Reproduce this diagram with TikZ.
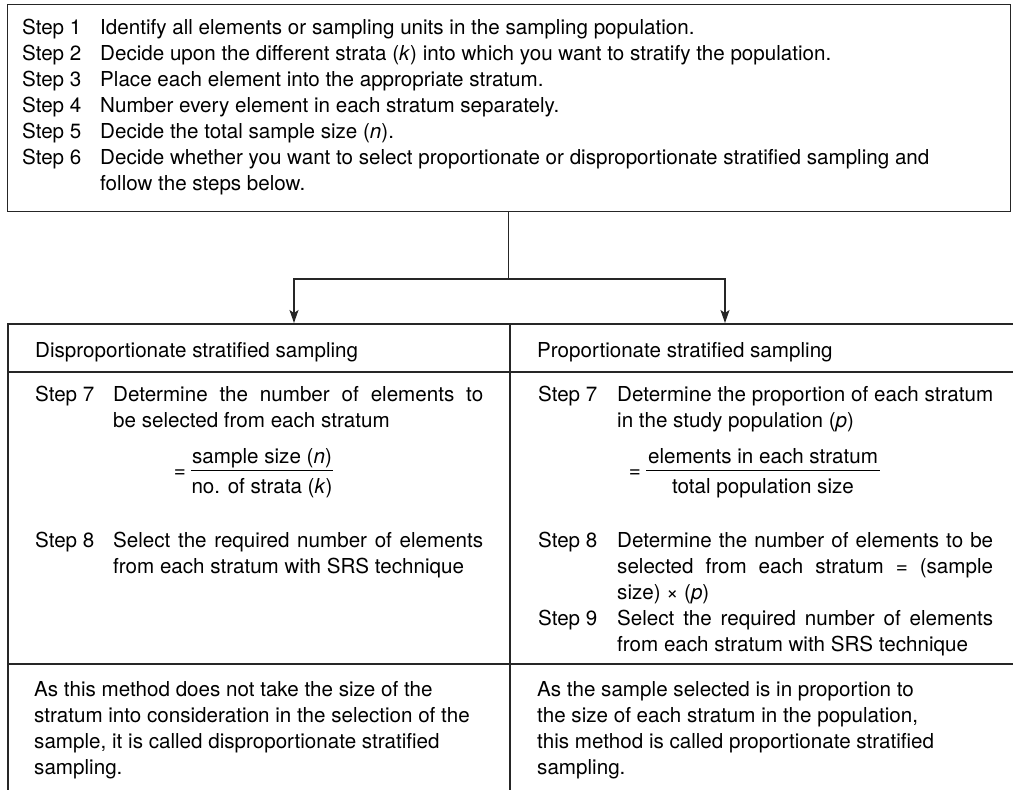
\documentclass[tikz,border=0pt]{standalone}
\usepackage{fontspec}
\setmainfont{TeX Gyre Heros}
\usetikzlibrary{arrows.meta}
\definecolor{linec}{HTML}{262626}
\newcommand\bodyfont{\fontsize{20.6pt}{26pt}\selectfont}
\newcommand\jline[2]{\makebox[#1pt][s]{#2}}
\begin{document}
\begin{tikzpicture}[x=1pt,y=-1pt,
  txt/.style={anchor=base west, inner sep=0pt, font=\bodyfont, text=black},
  ctxt/.style={anchor=base, inner sep=0pt, font=\bodyfont, text=black},
  rule/.style={draw=linec, line width=1.3pt},
  bar/.style={draw=black, line width=1pt},
  arr/.style={rule, -{Stealth[length=13pt,width=9pt,inset=3pt]}}]
\useasboundingbox (0,0) rectangle (1013,790);

% top box
\node[rule, minimum width=1003pt, minimum height=207pt, inner sep=0pt, anchor=north west] (top) at (6.5,4) {};
\node[txt] (s1) at (22,34) {Step 1};
\node[txt] (d1) at (100,34) {Identify all elements or sampling units in the sampling population.};
\node[txt] (s2) at (22,60) {Step 2};
\node[txt] (d2) at (100,60) {Decide upon the different strata (\textit{k}) into which you want to stratify the population.};
\node[txt] (s3) at (22,86) {Step 3};
\node[txt] (d3) at (100,86) {Place each element into the appropriate stratum.};
\node[txt] (s4) at (22,112) {Step 4};
\node[txt] (d4) at (100,112) {Number every element in each stratum separately.};
\node[txt] (s5) at (22,138) {Step 5};
\node[txt] (d5) at (100,138) {Decide the total sample size (\textit{n}).};
\node[txt] (s6) at (22,164) {Step 6};
\node[txt] (d6) at (100,164) {Decide whether you want to select proportionate or disproportionate stratified sampling and};
\node[txt] (d6b) at (100,190) {follow the steps below.};

% connectors
\coordinate (bL) at (294,279);
\coordinate (bR) at (725,279);
\coordinate (tL) at (294,323);
\coordinate (tR) at (725,323);
\draw[arr] (top.south) |- (bL) -- (tL);
\draw[arr] (top.south) |- (bR) -- (tR);

% table rules
\draw[rule] (8,790) -- (8,324) -- (1013,324);
\draw[rule] (8,372) -- (1013,372);
\draw[rule] (8,664) -- (1013,664);
\draw[rule] (510,324) -- (510,790);

% headers
\node[txt] (hL) at (35,357) {Disproportionate stratified sampling};
\node[txt] (hR) at (537,357) {Proportionate stratified sampling};

% left column
\node[txt] (l7) at (35,401) {Step 7};
\node[txt] (l7a) at (113,401) {\jline{370}{Determine the number of elements to}};
\node[txt] (l7b) at (113,427) {be selected from each stratum};
\node[ctxt] (leq) at (180,477) {=};
\node[ctxt] (lnum) at (262,463) {sample size (\textit{n})};
\node[ctxt] (lden) at (262,493) {no. of strata (\textit{k})};
\coordinate (lb1) at (191,470);
\coordinate (lb2) at (333,470);
\draw[bar] (lb1) -- (lb2);
\node[txt] (l8) at (35,547) {Step 8};
\node[txt] (l8a) at (113,547) {\jline{370}{Select the required number of elements}};
\node[txt] (l8b) at (113,573) {from each stratum with SRS technique};

% right column
\node[txt] (r7) at (538,401) {Step 7};
\node[txt] (r7a) at (617,401) {\jline{376}{Determine the proportion of each stratum}};
\node[txt] (r7b) at (617,427) {in the study population (\textit{p})};
\node[ctxt] (req) at (635,477) {=};
\node[ctxt] (rnum) at (763,463) {elements in each stratum};
\node[ctxt] (rden) at (763,493) {total population size};
\coordinate (rb1) at (646,470);
\coordinate (rb2) at (880,470);
\draw[bar] (rb1) -- (rb2);
\node[txt] (r8) at (538,547) {Step 8};
\node[txt] (r8a) at (617,547) {\jline{376}{Determine the number of elements to be}};
\node[txt] (r8b) at (617,573) {\jline{376}{selected from each stratum = (sample}};
\node[txt] (r8c) at (617,599) {size) × (\textit{p})};
\node[txt] (r9) at (538,625) {Step 9};
\node[txt] (r9a) at (617,625) {\jline{376}{Select the required number of elements}};
\node[txt] (r9b) at (617,651) {from each stratum with SRS technique};

% bottom texts
\node[txt] (bl1) at (34,696) {As this method does not take the size of the};
\node[txt] (bl2) at (34,722) {stratum into consideration in the selection of the};
\node[txt] (bl3) at (34,748) {sample, it is called disproportionate stratified};
\node[txt] (bl4) at (34,774) {sampling.};
\node[txt] (br1) at (537,696) {As the sample selected is in proportion to};
\node[txt] (br2) at (537,722) {the size of each stratum in the population,};
\node[txt] (br3) at (537,748) {this method is called proportionate stratified};
\node[txt] (br4) at (537,774) {sampling.};
\end{tikzpicture}
\end{document}
